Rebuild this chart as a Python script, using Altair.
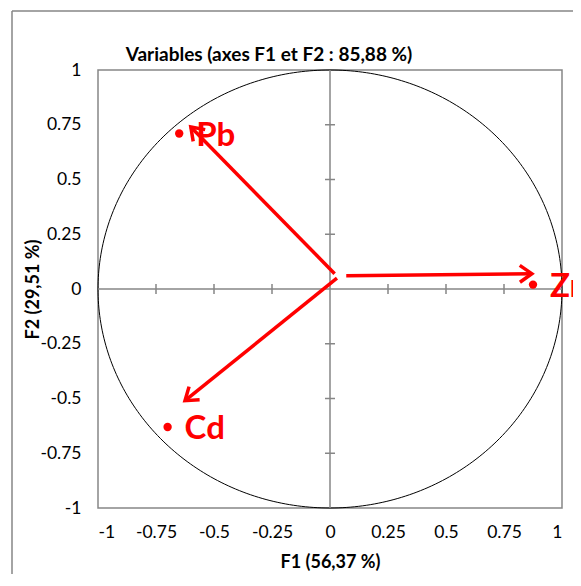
import math
import numpy as np
import pandas as pd
import altair as alt

# ---- data ----
names = ["Pb", "Zn", "Cd"]
f1 = [-0.65, 0.875, -0.70]
f2 = [0.71, 0.02, -0.63]

# arrow shapes (start / tip) as drawn in the reference, in axis units
arrow_x0 = [0.02, 0.07, 0.03]
arrow_y0 = [0.07, 0.06, 0.05]
arrow_x1 = [-0.60, 0.87, -0.625]
arrow_y1 = [0.74, 0.07, -0.51]

tick_values = [-1, -0.75, -0.5, -0.25, 0, 0.25, 0.5, 0.75, 1]
inner_ticks = [-0.75, -0.5, -0.25, 0.25, 0.5, 0.75]

chart_title = "Variables (axes F1 et F2 : 85,88 %)"
x_title = "F1 (56,37 %)"
y_title = "F2 (29,51 %)"

W, H = 464, 438
RED = "#FF0000"
GRAY = "#868686"
FONT = "Lato"

pts = pd.DataFrame({"name": names, "F1": f1, "F2": f2})

# arrow table; head angle computed in screen space
ang = []
for a, b, c, d in zip(arrow_x0, arrow_y0, arrow_x1, arrow_y1):
    dxs = (c - a) * W / 2
    dys = -(d - b) * H / 2
    ang.append(math.degrees(math.atan2(dxs, -dys)) % 360)
arrows = pd.DataFrame({"x0": arrow_x0, "y0": arrow_y0, "x1": arrow_x1, "y1": arrow_y1, "ang": ang})

# correlation circle (unit circle geometry)
t = np.linspace(0, 2 * np.pi, 361)
circle = pd.DataFrame({"cx": np.cos(t), "cy": np.sin(t), "o": np.arange(len(t))})

ticks = pd.DataFrame({"v": inner_ticks, "z0": [0] * len(inner_ticks)})
zero = pd.DataFrame({"z": [0]})

xs = alt.Scale(domain=[-1, 1], nice=False, zero=False)
ys = alt.Scale(domain=[-1, 1], nice=False, zero=False)

label_expr = "toString(datum.value)"
LFS = 17.5
TFS = 18

x_axis = alt.Axis(values=tick_values, grid=False, ticks=False, domain=False,
                  labelExpr=label_expr, labelFont=FONT, labelFontSize=LFS, labelColor="black",
                  labelPadding=15, title=x_title, titleFont=FONT, titleFontSize=TFS,
                  titleFontWeight="bold", titleColor="black", titleX=W / 2, titleY=54,
                  titleBaseline="middle", titleAlign="center")
y_axis = alt.Axis(values=tick_values, grid=False, ticks=False, domain=False,
                  labelExpr=label_expr, labelFont=FONT, labelFontSize=LFS, labelColor="black",
                  labelPadding=17, title=y_title, titleFont=FONT, titleFontSize=TFS,
                  titleFontWeight="bold", titleColor="black", titleX=-65, titleY=H / 2,
                  titleBaseline="middle", titleAlign="center", titleAngle=270)

circ = alt.Chart(circle).mark_line(color="black", strokeWidth=1).encode(
    x=alt.X("cx:Q", scale=xs, axis=x_axis),
    y=alt.Y("cy:Q", scale=ys, axis=y_axis),
    order="o:Q",
)

vline = alt.Chart(zero).mark_rule(color=GRAY, strokeWidth=1.5).encode(x=alt.X("z:Q", scale=xs))
hline = alt.Chart(zero).mark_rule(color=GRAY, strokeWidth=1.5).encode(y=alt.Y("z:Q", scale=ys))

xticks = alt.Chart(ticks).mark_tick(orient="vertical", size=10, thickness=1.5, color=GRAY, opacity=1).encode(
    x=alt.X("v:Q", scale=xs), y=alt.Y("z0:Q", scale=ys)
)
yticks = alt.Chart(ticks).mark_tick(orient="horizontal", size=10, thickness=1.5, color=GRAY, opacity=1).encode(
    y=alt.Y("v:Q", scale=ys), x=alt.X("z0:Q", scale=xs)
)

shafts = alt.Chart(arrows).mark_rule(color=RED, strokeWidth=3.5).encode(
    x=alt.X("x0:Q", scale=xs), y=alt.Y("y0:Q", scale=ys), x2="x1:Q", y2="y1:Q"
)
heads = alt.Chart(arrows).mark_point(
    shape="M -0.7 1 L 0 0 L 0.7 1", filled=False, size=576, strokeWidth=3.5,
    color=RED, opacity=1, strokeJoin="miter"
).encode(
    x=alt.X("x1:Q", scale=xs), y=alt.Y("y1:Q", scale=ys), angle=alt.Angle("ang:Q", scale=None)
)

dots = alt.Chart(pts).mark_circle(color=RED, size=70, opacity=1).encode(
    x=alt.X("F1:Q", scale=xs), y=alt.Y("F2:Q", scale=ys)
)
labels = alt.Chart(pts).mark_text(
    color=RED, font=FONT, fontSize=33, fontWeight="bold", align="left", baseline="middle", dx=17, dy=2
).encode(x=alt.X("F1:Q", scale=xs), y=alt.Y("F2:Q", scale=ys), text="name:N")

one = pd.DataFrame({"title": [chart_title]})
frame_v = alt.Chart(one).mark_rule(color=GRAY, strokeWidth=1.5).encode(
    x=alt.value(-86), y=alt.value(-59), y2=alt.value(1000))
frame_h = alt.Chart(one).mark_rule(color=GRAY, strokeWidth=1.5).encode(
    x=alt.value(-86), x2=alt.value(1000), y=alt.value(-59))
title = alt.Chart(one).mark_text(
    font=FONT, fontSize=19, fontWeight="bold", color="black", align="center", baseline="middle"
).encode(x=alt.value(171), y=alt.value(-15), text="title:N")

chart = alt.layer(
    frame_v, frame_h, title, circ, vline, hline, xticks, yticks, shafts, heads, dots, labels
).properties(
    width=W, height=H,
    autosize=alt.AutoSizeParams(type="none"),
    padding={"left": 90, "top": 62, "right": 11, "bottom": 66},
).configure_view(stroke=GRAY, strokeWidth=1.5)

chart.save("out.html", embed_options={"renderer": "svg", "actions": False})
